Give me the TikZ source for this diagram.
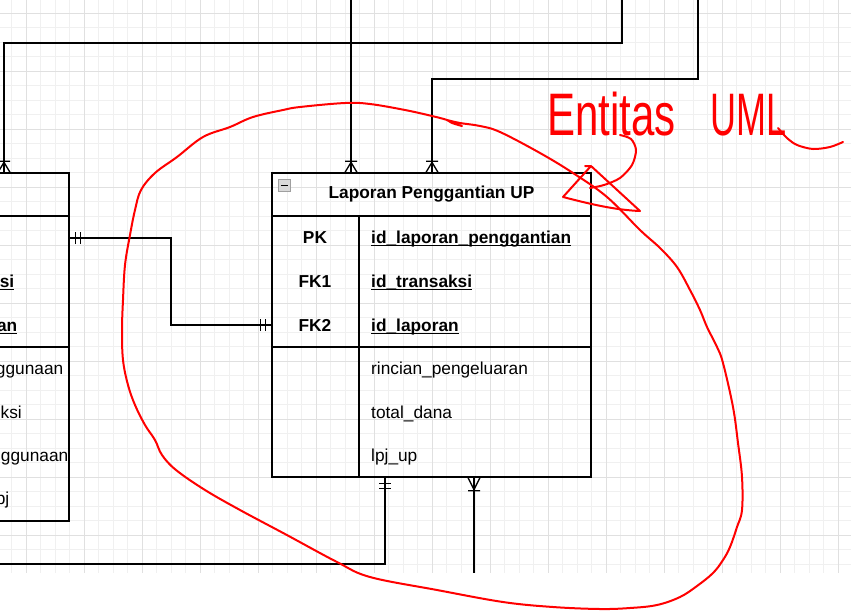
\documentclass[tikz,border=0pt]{standalone}
\usepackage{fontspec}
\setmainfont{Liberation Sans}
\usetikzlibrary{decorations.markings}
\definecolor{gridmaj}{HTML}{E0E0E0}
\definecolor{gridmin}{HTML}{F0F0F0}
\definecolor{pen}{HTML}{FF0000}
\newcommand{\tblfont}{\fontsize{17.3pt}{20pt}\selectfont}
\newcommand{\keyu}[1]{\setbox0\hbox{#1}\rlap{\rule[-3.2pt]{\wd0}{1.4pt}}\box0}
\begin{document}
\begin{tikzpicture}[x=1pt,y=-1pt,
  box/.style={draw=black,line width=1.3pt,rectangle,inner sep=0pt},
  fld/.style={anchor=base west,inner sep=0pt,font=\tblfont},
  keyname/.style={fld,font=\tblfont\bfseries},
  keycol/.style={anchor=base,inner sep=0pt,font=\tblfont\bfseries},
  conn/.style={draw=black,line width=1.3pt},
  hand/.style={draw=pen,line width=2pt,line cap=round,line join=round},
  onestart/.style={postaction={decorate,decoration={markings,
    mark=at position 5.5pt with {\draw[line width=1.3pt] (0pt,-6pt) -- (0pt,6pt);},
    mark=at position 11pt with {\draw[line width=1.3pt] (0pt,-6pt) -- (0pt,6pt);}}}},
  oneend/.style={postaction={decorate,decoration={markings,
    mark=at position -6pt with {\draw[line width=1.3pt] (0pt,-6pt) -- (0pt,6pt);},
    mark=at position -11pt with {\draw[line width=1.3pt] (0pt,-6pt) -- (0pt,6pt);}}}},
  manyend/.style={postaction={decorate,decoration={markings,
    mark=at position -0.01pt with {\draw[line width=1.3pt] (-10pt,0pt) -- (0pt,6pt) (-10pt,0pt) -- (0pt,-6pt) (-11pt,-6pt) -- (-11pt,6pt);}}}},
  manystart/.style={postaction={decorate,decoration={markings,
    mark=at position 0.01pt with {\draw[line width=1.3pt] (12pt,0pt) -- (0pt,6pt) (12pt,0pt) -- (0pt,-6pt) (13pt,-6pt) -- (13pt,6pt);}}}}]
\useasboundingbox (0,0) rectangle (851,611);
\clip (0,0) rectangle (851,611);
\fill[white] (0,0) rectangle (851,611);
% grid
\foreach \gx in {0,...,58} \draw[gridmin,line width=1pt] ({11.5+14.5*\gx},0) -- ({11.5+14.5*\gx},573);
\foreach \gy in {0,...,39} \draw[gridmin,line width=1pt] (0,{-1.5+14.5*\gy}) -- (851,{-1.5+14.5*\gy});
\foreach \gx in {0,...,14} \draw[gridmaj,line width=1pt] ({26+58*\gx},0) -- ({26+58*\gx},573);
\foreach \gy in {0,...,9} \draw[gridmaj,line width=1pt] (0,{13+58*\gy}) -- (851,{13+58*\gy});

% tabel kiri (terpotong)
\node[box,minimum width=99pt,minimum height=43pt] (lhdr) at (19.5,194.5) {};
\node[box,minimum width=99pt,minimum height=131pt] (lkeys) at (19.5,281.5) {};
\node[box,minimum width=99pt,minimum height=174pt] (lattr) at (19.5,434) {};
\node[keyname,anchor=base east] (lk2) at (14.5,287) {\keyu{si}};
\node[keyname,anchor=base east] (lk3) at (17.5,331) {\keyu{an}};
\node[fld,anchor=base east] (la1) at (63.5,374) {ggunaan};
\node[fld,anchor=base east] (la2) at (22,418) {ksi};
\node[fld,anchor=base east] (la3) at (68.5,461) {ggunaan};
\node[fld,anchor=base east] (la4) at (9.5,504) {pj};

% Laporan Penggantian UP
\node[box,minimum width=319pt,minimum height=43pt,font=\tblfont\bfseries] (hdr) at (431.5,194.5) {Laporan Penggantian UP};
\node[box,minimum width=87pt,minimum height=131pt] (keys) at (315.5,281.5) {};
\node[box,minimum width=232pt,minimum height=131pt] (kname) at (475,281.5) {};
\node[box,minimum width=87pt,minimum height=130pt] (akeys) at (315.5,412) {};
\node[box,minimum width=232pt,minimum height=130pt] (aname) at (475,412) {};
\node[draw=gray!75,fill=gray!30,minimum size=12pt,inner sep=0pt] (fold) at (284.5,185.5) {};
\draw[line width=1.4pt] ([xshift=2.5pt]fold.west) -- ([xshift=-2.5pt]fold.east);
\node[keycol] (pk) at (315,243) {PK};
\node[keycol] (fk1) at (315,287) {FK1};
\node[keycol] (fk2) at (315,331) {FK2};
\node[keyname] (idlp) at (371,243) {\keyu{id\_laporan\_penggantian}};
\node[keyname] (idtr) at (371,287) {\keyu{id\_transaksi}};
\node[keyname] (idlap) at (371,331) {\keyu{id\_laporan}};
\node[fld] (rinc) at (371,374) {rincian\_pengeluaran};
\node[fld] (tot) at (371,418) {total\_dana};
\node[fld] (lpj) at (371,461) {lpj\_up};

% relasi
\coordinate (src1) at (622,0);
\coordinate (src2) at (351,0);
\coordinate (src3) at (698,0);
\coordinate (snk5) at (0,564);
\coordinate (snk6) at (474,573);
\draw[conn,manyend] (src1) |- (4,43) -- (4,43 |- lhdr.north);
\draw[conn,manyend] (src2) -- (src2 |- hdr.north);
\draw[conn,manyend] (src3) |- (432,79) -- (432,79 |- hdr.north);
\draw[conn,onestart,oneend] (lkeys.east |- 0,238) -| (171,325) -- (keys.west |- 0,325);
\draw[conn,onestart] (akeys.south -| 385,0) |- (snk5);
\draw[conn,manystart] (aname.south -| snk6) -- (snk6);

% coretan merah
\draw[hand] plot[smooth,tension=0.6] coordinates {(462,126) (452,123) (447,120) (432,116) (405,110) (370,104) (345,103) (300,107) (283,110) (253,117) (230,127) (203,137) (177,157) (155,173) (141,190) (135,210) (130,235) (125,265) (123,300) (122,330) (123,360) (128,385) (135,405) (145,425) (155,440) (162,455) (176,470) (205,490) (240,510) (285,534) (337,562) (370,577) (437,590) (503,602) (553,607) (600,609) (630,608) (657,605) (680,597) (697,586) (713,573) (723,560) (730,547) (737,527) (742,510) (742,477) (738,443) (733,407) (723,363) (717,347) (707,327) (700,310) (690,290) (677,267) (660,248) (640,230) (607,197) (573,173) (540,153) (500,132) (480,126) (460,123) (447,120)};
\node[anchor=base west,inner sep=0pt,text=pen,xscale=0.7,font=\fontsize{60pt}{60pt}\selectfont] (ent) at (547,135) {Entitas};
\node[anchor=base west,inner sep=0pt,text=pen,xscale=0.6,font=\fontsize{60pt}{60pt}\selectfont] (uml) at (710,135) {UML};
\draw[hand] plot[smooth] coordinates {(778,128) (787,138) (797,145) (813,149) (830,147) (843,142)};
\draw[hand] plot[smooth] coordinates {(620,135) (631,139) (636,150) (632,165) (620,178) (604,185) (590,188)};
\draw[hand] (585,166) -- (591,166) -- (563,197) .. controls (590,204) and (615,210) .. (640,211) -- (591,166);
\end{tikzpicture}
\end{document}
